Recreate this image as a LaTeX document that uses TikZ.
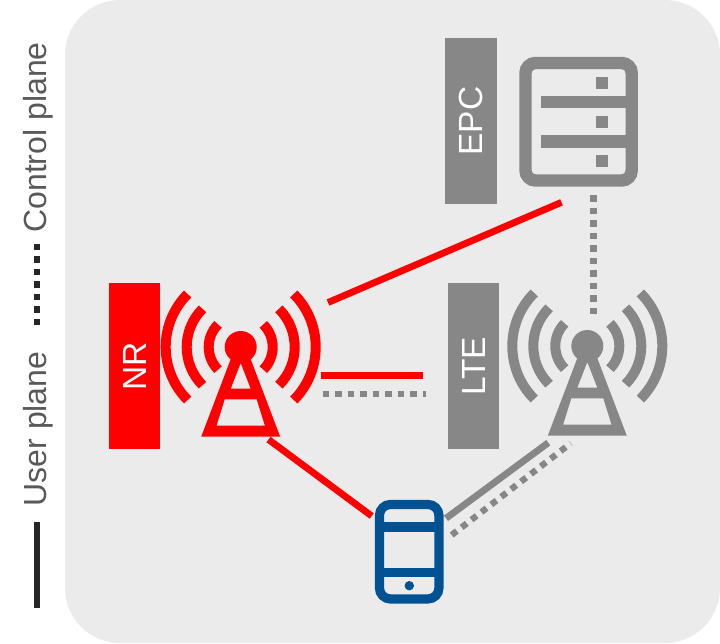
\documentclass[tikz,border=0pt]{standalone}
\usepackage{fontspec}
\setmainfont{Liberation Sans}
\usepackage{tikz}
\usetikzlibrary{shapes.geometric}
\definecolor{panel}{RGB}{235,235,235}
\definecolor{netgrey}{RGB}{135,135,135}
\definecolor{netred}{RGB}{255,0,0}
\definecolor{phoneblue}{RGB}{0,82,147}
\definecolor{legendtext}{RGB}{89,89,89}
\definecolor{legendline}{RGB}{38,38,38}
\tikzstyle{tag} = [rectangle, rotate=90, minimum width=165.7pt, minimum height=51.5pt, inner sep=0pt, outer sep=0pt, text=white, font=\fontsize{33.5}{33.5}\selectfont]
\tikzstyle{legend} = [rotate=90, anchor=base, inner sep=0pt, text=legendtext, font=\fontsize{32}{32}\selectfont]
\tikzstyle{user} = [line width=6.8pt]
\tikzstyle{ctrl} = [line width=6.3pt, dash pattern=on 6.5pt off 6pt]
\tikzstyle{serverbox} = [rectangle, rounded corners=10pt, minimum width=106.2pt, minimum height=117.5pt, inner sep=0pt, outer sep=0pt, draw=netgrey, line width=12.4pt]
\tikzstyle{phonebox} = [rectangle, rounded corners=11pt, minimum width=59.5pt, minimum height=94.5pt, inner sep=0pt, outer sep=0pt, draw=phoneblue, line width=9.2pt]
% radio mast with its waves: #1 position, #2 colour
\newcommand{\mast}[2]{
\begin{scope}[shift={(#1)}]
\fill[#2] (0,0) circle [radius=16pt];
\fill[#2, even odd rule] (-6.5,3) -- (6.5,3) -- (39.5,89.7) -- (-39.5,89.7) -- cycle
  (0,16) -- (10,41.7) -- (-10,41.7) -- cycle
  (-16,52.3) -- (16,52.3) -- (24.2,78.7) -- (-24.2,78.7) -- cycle;
\foreach \r in {32,54,75} {
  \draw[#2, line width=10pt] (-45:\r) arc [start angle=45, end angle=-45, radius=\r pt];
  \draw[#2, line width=10pt] (225:\r) arc [start angle=135, end angle=225, radius=\r pt];
}
\end{scope}}
\begin{document}
\begin{tikzpicture}[x=1pt,y=-1pt]
\useasboundingbox (0,0) rectangle (720,643);
\fill[panel, rounded corners=55pt] (65,0) rectangle (720,643);
% legend
\node (ctrllabel) [legend] at (46,137.5) {Control plane};
\node (userlabel) [legend] at (46,429) {User plane};
\coordinate (ctrltop) at (37,243.7);
\coordinate (ctrlend) at (37,325.5);
\coordinate (usertop) at (37,522);
\coordinate (userend) at (37,608.3);
\draw[ctrl, legendline] (ctrltop) -- (ctrlend);
\draw[user, legendline] (usertop) -- (userend);
% tags
\node (epctag) [tag, fill=netgrey] at (471,121.2) {EPC};
\node (nrtag) [tag, fill=netred] at (134.5,366.2) {NR};
\node (ltetag) [tag, fill=netgrey] at (473.7,366.2) {LTE};
% core server
\node (epc) [serverbox] at (578.6,121.75) {};
\fill[netgrey] (541.3,96) rectangle (626,108.3);
\fill[netgrey] (541.3,135.3) rectangle (626,147.7);
\fill[netgrey] (595.7,76.7) rectangle (608.3,89.3);
\fill[netgrey] (595.7,115.8) rectangle (608.3,127.7);
\fill[netgrey] (595.7,154.7) rectangle (608.3,167.3);
% masts
\coordinate (nr) at (240.7,347);
\coordinate (lte) at (587.3,346);
\mast{nr}{netred}
\mast{lte}{netgrey}
% phone
\node (ue) [phonebox] at (409.2,551.7) {};
\fill[phoneblue] (379.5,522.4) rectangle (439,531.7);
\fill[phoneblue] (379.5,568.3) rectangle (439,577.4);
\fill[phoneblue] (409.3,585.7) circle [radius=4.7pt];
% links
\coordinate (nrcore) at (328,302.5);
\coordinate (corenr) at (561.5,202.3);
\coordinate (nrx) at (320.7,375.3);
\coordinate (xnr) at (423.3,375.3);
\coordinate (nrxc) at (322.7,394.3);
\coordinate (xcnr) at (425.5,394.3);
\coordinate (nrue) at (268.5,439.5);
\coordinate (uenr) at (371.7,516);
\coordinate (lteue) at (548.3,442.7);
\coordinate (uelte) at (446,518.3);
\coordinate (ltecue) at (570.7,443.3);
\coordinate (uecte) at (451.7,535);
\coordinate (corelte) at (593.4,195);
\coordinate (ltecore) at (593.4,314);
\draw[user, netred] (nrcore) -- (corenr);
\draw[user, netred] (nrx) -- (xnr);
\draw[ctrl, netgrey] (nrxc) -- (xcnr);
\draw[user, netred] (nrue) -- (uenr);
\draw[user, netgrey] (uelte) -- (lteue);
\draw[ctrl, netgrey] (uecte) -- (ltecue);
\draw[ctrl, netgrey] (corelte) -- (ltecore);
\end{tikzpicture}
\end{document}
